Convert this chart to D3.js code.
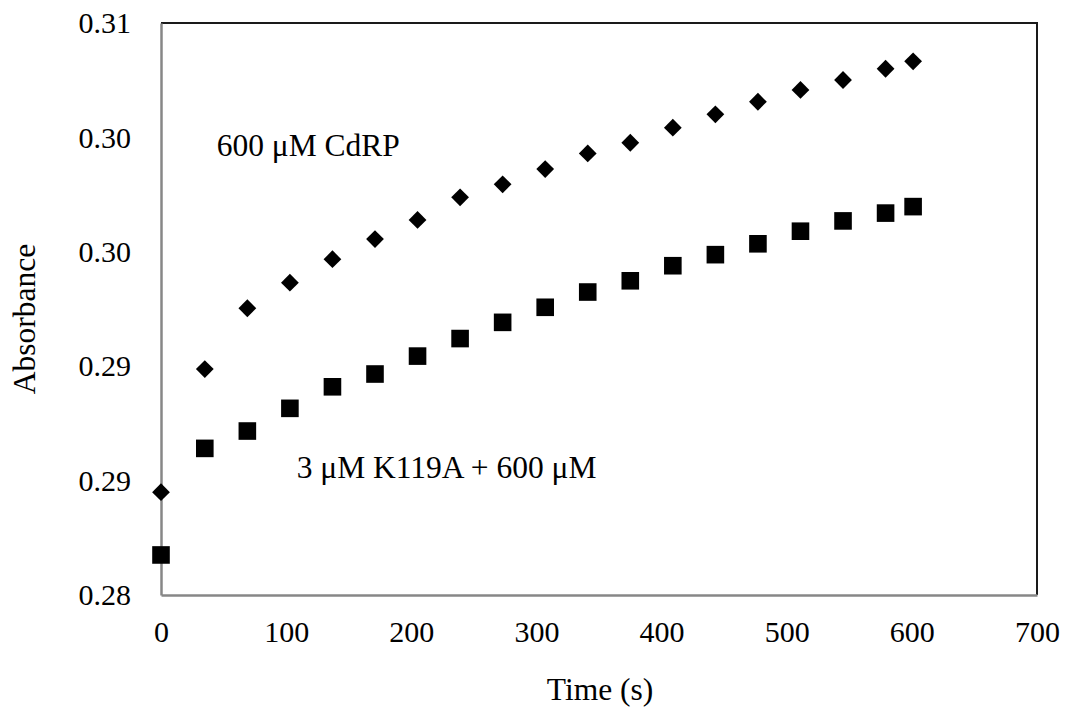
<!DOCTYPE html>
<html lang="en">
<head>
  <meta charset="UTF-8">
  <title>Absorbance vs Time</title>
  <script src="https://d3js.org/d3.v7.min.js"></script>
  <style>
    body { margin: 0; background: #ffffff; }
    svg text { font-family: "Liberation Serif", "Times New Roman", serif; fill: #000; }
  </style>
</head>
<body>
  <svg id="chart" width="1068" height="712"></svg>
  <script>
    // time points (s)
    const times = [0, 35, 69, 103, 137, 171, 205, 239, 273, 307, 341, 375, 409, 443, 477, 511, 545, 579, 601];
    // 600 uM CdRP (diamonds)
    const cdrp = [0.28539, 0.29185, 0.29504, 0.29638, 0.29761, 0.29867, 0.29967, 0.30086, 0.30154, 0.30234,
                  0.30316, 0.30372, 0.30451, 0.30521, 0.30587, 0.30649, 0.30701, 0.30760, 0.30799];
    // 3 uM K119A + 600 uM (squares)
    const k119a = [0.28210, 0.28769, 0.28860, 0.28979, 0.29092, 0.29159, 0.29253, 0.29345, 0.29430, 0.29509,
                   0.29589, 0.29648, 0.29727, 0.29785, 0.29842, 0.29908, 0.29962, 0.30003, 0.30037];
    const xTicks = [0, 100, 200, 300, 400, 500, 600, 700];
    const yTicks = [0.280, 0.286, 0.292, 0.298, 0.304, 0.310];
    const labels = [
      { text: "600 \u03bcM CdRP", t: 44.5, v: 0.30302 },
      { text: "3 \u03bcM K119A + 600 \u03bcM", t: 108.4, v: 0.28612 }
    ];

    const mLeft = 161, mRight = 1037, mTop = 23, mBottom = 595;
    const svg = d3.select("#chart");

    const x = d3.scaleLinear().domain([0, 700]).range([mLeft, mRight]);
    const y = d3.scaleLinear().domain([0.28, 0.31]).range([mBottom, mTop]);

    // frame: top and right edges dark
    svg.append("path")
       .attr("d", `M${mLeft},${mTop}H${mRight}V${mBottom}`)
       .attr("fill", "none")
       .attr("stroke", "#1a1a1a")
       .attr("stroke-width", 2);

    const fmt = d3.format(".2f");

    const xAxis = svg.append("g")
       .attr("transform", `translate(0,${mBottom})`)
       .call(d3.axisBottom(x).tickValues(xTicks).tickSize(0).tickPadding(26));
    xAxis.select(".domain").attr("stroke", "#878787").attr("stroke-width", 2.5);
    xAxis.selectAll("text").style("font-size", "30px");

    const yAxis = svg.append("g")
       .attr("transform", `translate(${mLeft},0)`)
       .call(d3.axisLeft(y).tickValues(yTicks).tickFormat(fmt).tickSize(0).tickPadding(30));
    yAxis.select(".domain").attr("stroke", "#878787").attr("stroke-width", 2.5);
    yAxis.selectAll("text").style("font-size", "30px");

    const ptsA = times.map((t, i) => ({ t, v: cdrp[i] }));
    const ptsB = times.map((t, i) => ({ t, v: k119a[i] }));

    svg.append("g").selectAll("path")
       .data(ptsA)
       .enter()
       .append("path")
       .attr("d", d3.symbol(d3.symbolSquare, 158))
       .attr("transform", d => `translate(${x(d.t)},${y(d.v)}) rotate(45)`)
       .attr("fill", "#000");

    svg.append("g").selectAll("path")
       .data(ptsB)
       .enter()
       .append("path")
       .attr("d", d3.symbol(d3.symbolSquare, 310))
       .attr("transform", d => `translate(${x(d.t)},${y(d.v)})`)
       .attr("fill", "#000");

    svg.append("g").selectAll("text")
       .data(labels)
       .enter()
       .append("text")
       .attr("x", d => x(d.t))
       .attr("y", d => y(d.v))
       .style("font-size", "31.5px")
       .text(d => d.text);

    svg.append("text")
       .attr("x", (mLeft + mRight) / 2 + 1)
       .attr("y", 700)
       .attr("text-anchor", "middle")
       .style("font-size", "31.5px")
       .text("Time (s)");

    svg.append("text")
       .attr("transform", `translate(35,319) rotate(-90)`)
       .attr("text-anchor", "middle")
       .style("font-size", "31.5px")
       .text("Absorbance");
  </script>
</body>
</html>
